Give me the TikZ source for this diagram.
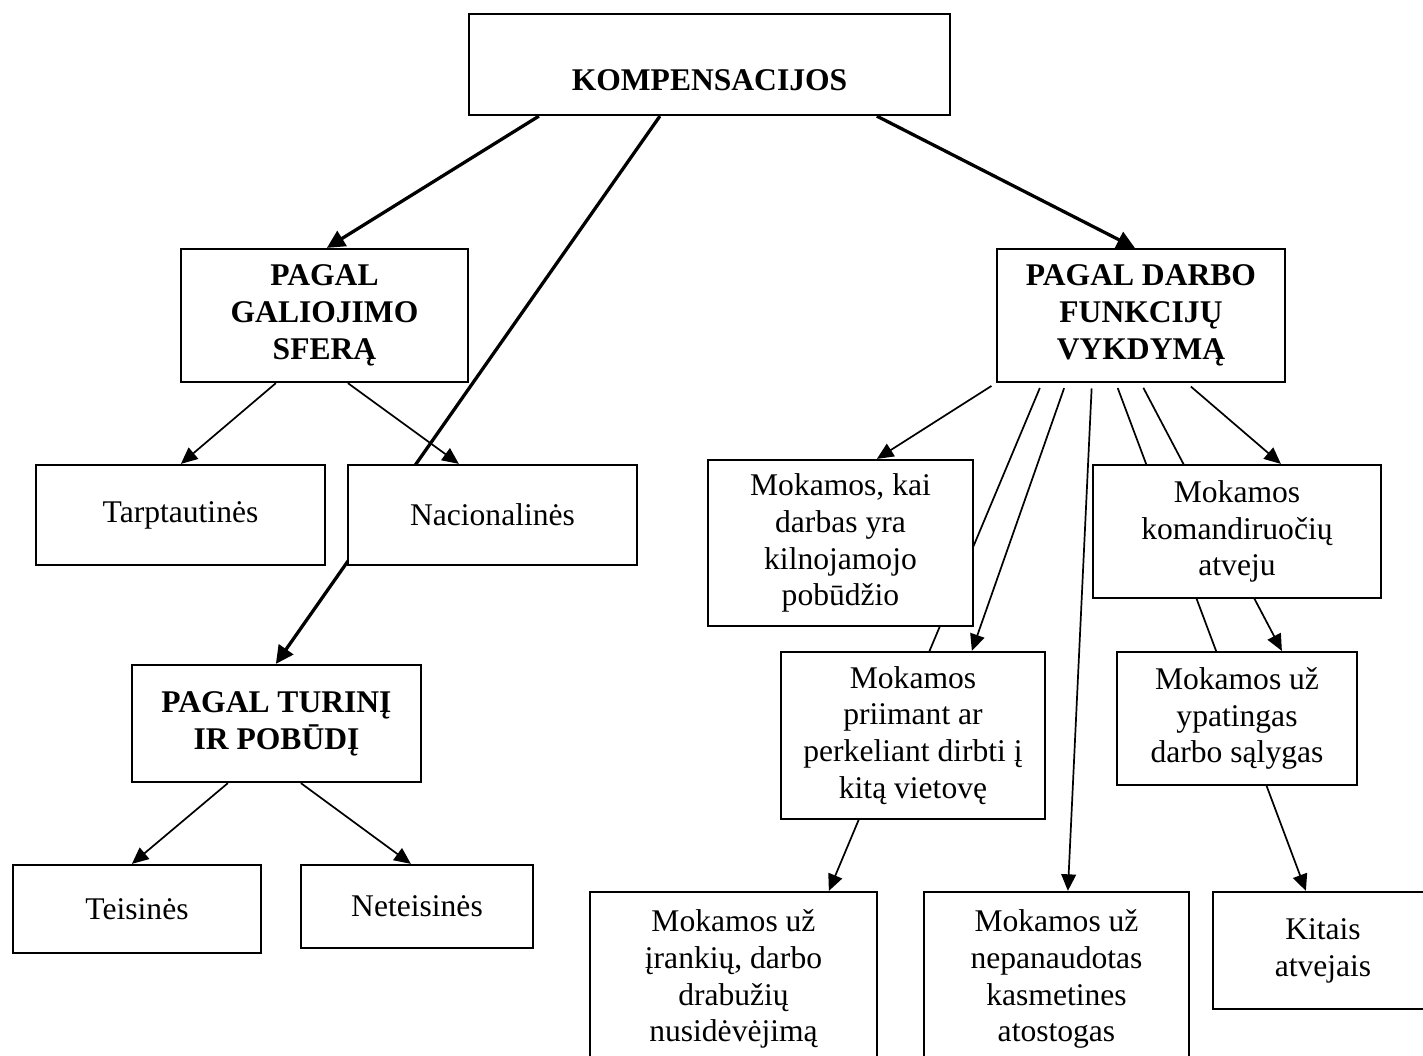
\documentclass[tikz,border=0pt]{standalone}
\usepackage{fontspec}
\setmainfont{Liberation Serif}
\usetikzlibrary{arrows.meta}
\usetikzlibrary{backgrounds}

\begin{document}
\begin{tikzpicture}[x=0.38pt, y=-0.38pt,
    box/.style={draw, line width=0.85pt, fill=white, align=center, inner sep=2pt,
        font=\fontsize{12}{14}\selectfont},
    head/.style={box, font=\fontsize{12}{14}\selectfont\bfseries},
    sz/.style 2 args={minimum width=#1*0.38pt, minimum height=#2*0.38pt},
    link/.style={line width=0.65pt, -{Triangle[length=6.3pt, width=5.6pt]}},
    mainlink/.style={line width=1.25pt, -{Triangle[length=6.8pt, width=6.6pt]}}]
        \useasboundingbox (0, 0) rectangle (1423, 1055);
        \clip (0, 0) rectangle (1423, 1055);

        \node[head, sz={481}{101}] (komp) at (709.5, 64.5) {\strut\\KOMPENSACIJOS\strut};
        \node[head, sz={287}{133}] (gal) at (324.5, 315.5) {PAGAL\\GALIOJIMO\\SFERĄ};
        \node[head, sz={288}{133}] (darbo) at (1141, 315.5) {PAGAL DARBO\\FUNKCIJŲ\\VYKDYMĄ};
        \node[box, sz={289}{100}] (tarpt) at (180.5, 515) {Tarptautinės};
        \node[box, sz={289}{100}] (nac) at (492.5, 515) {Nacionalinės};
        \node[head, sz={289}{117}] (tur) at (276.5, 723.5) {PAGAL TURINĮ\\IR POBŪDĮ};
        \node[box, sz={248}{88}] (teis) at (137, 909) {Teisinės};
        \node[box, sz={232}{83}] (neteis) at (417, 906.5) {Neteisinės};
        % right branch
        \node[box, sz={265}{166}] (kai) at (840.5, 543) {Mokamos, kai\\darbas yra\\kilnojamojo\\pobūdžio};
        \node[box, sz={288}{133}] (koman) at (1237, 531.5) {Mokamos\\komandiruočių\\atveju};
        \node[box, sz={264}{167}] (priim) at (913, 735.5) {Mokamos\\priimant ar\\perkeliant dirbti į\\kitą vietovę};
        \node[box, sz={240}{133}] (ypat) at (1237, 718.5) {Mokamos už\\ypatingas\\darbo sąlygas};
        \node[box, sz={287}{174}] (irank) at (733.5, 979) {Mokamos už\\įrankių, darbo\\drabužių\\nusidėvėjimą};
        \node[box, sz={265}{174}] (nepan) at (1056.5, 979) {Mokamos už\\nepanaudotas\\kasmetines\\atostogas};
        \node[box, sz={220}{117}] (kitais) at (1323, 950.5) {Kitais\\atvejais};

        % connectors run behind the boxes
        \begin{pgfonlayer}{background}
        \draw[mainlink] ([shift={(71,0)}]komp.south west) -- ([shift={(147,0)}]gal.north west);
        \draw[mainlink] ([shift={(192,0)}]komp.south west) -- ([shift={(145,0)}]tur.north west);
        \draw[mainlink] ([shift={(409,0)}]komp.south west) -- ([shift={(139,0)}]darbo.north west);

        \draw[link] ([shift={(96,0)}]gal.south west) -- ([shift={(146,0)}]tarpt.north west);
        \draw[link] ([shift={(168,0)}]gal.south west) -- ([shift={(112,0)}]nac.north west);
        \draw[link] ([shift={(97,0)}]tur.south west) -- ([shift={(120,0)}]teis.north west);
        \draw[link] ([shift={(170,0)}]tur.south west) -- ([shift={(111,0)}]neteis.north west);

        \draw[link, shorten <=2pt] (darbo.south west) -- ([shift={(170,0)}]kai.north west);
        \draw[link, shorten <=2pt] ([shift={(46,0)}]darbo.south west) -- ([shift={(240,0)}]irank.north west);
        \draw[link, shorten <=2pt] ([shift={(70,0)}]darbo.south west) -- ([shift={(192,0)}]priim.north west);
        \draw[link, shorten <=2pt] ([shift={(96,0)}]darbo.south west) -- ([shift={(145,0)}]nepan.north west);
        \draw[link, shorten <=2pt] ([shift={(120,0)}]darbo.south west) -- ([shift={(94,0)}]kitais.north west);
        \draw[link, shorten <=2pt] ([shift={(145,0)}]darbo.south west) -- ([shift={(166,0)}]ypat.north west);
        \draw[link, shorten <=2pt] ([shift={(191,0)}]darbo.south west) -- ([shift={(189,0)}]koman.north west);
        \end{pgfonlayer}
    \end{tikzpicture}
\end{document}
